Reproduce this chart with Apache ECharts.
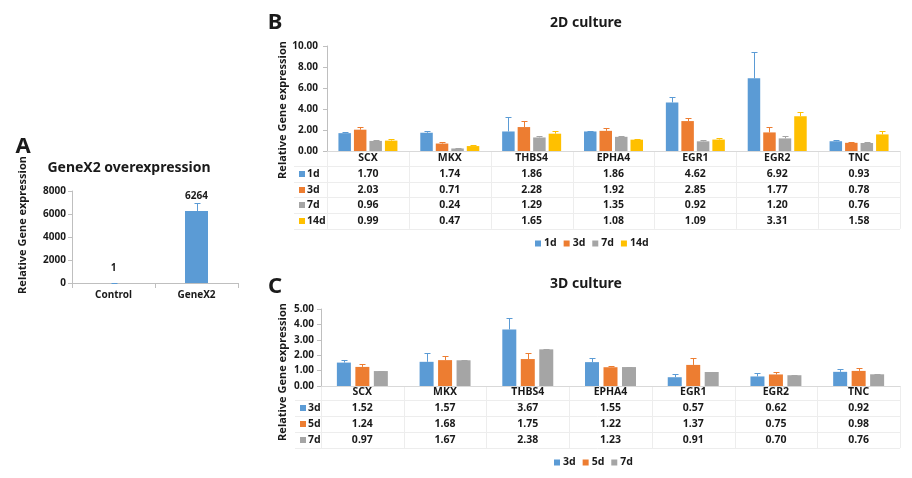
<!DOCTYPE html>
<html><head><meta charset="utf-8">
<script src="https://cdn.jsdelivr.net/npm/echarts@6/dist/echarts.min.js"></script>
<style>html,body{margin:0;padding:0;background:#fff}#c{width:912px;height:478px}</style>
</head><body><div id="c"></div>
<script>
// ---- data ----
const catsA = ['Control', 'GeneX2'];
const valsA = [1, 6264];
const errA = [0, 700];

const cats = ['SCX', 'MKX', 'THBS4', 'EPHA4', 'EGR1', 'EGR2', 'TNC'];
const namesB = ['1d', '3d', '7d', '14d'];
const b1d = [1.70, 1.74, 1.86, 1.86, 4.62, 6.92, 0.93];
const b3d = [2.03, 0.71, 2.28, 1.92, 2.85, 1.77, 0.78];
const b7d = [0.96, 0.24, 1.29, 1.35, 0.92, 1.20, 0.76];
const b14d = [0.99, 0.47, 1.65, 1.08, 1.09, 3.31, 1.58];
const eb1d = [0.14, 0.19, 1.35, 0.06, 0.55, 2.48, 0.12];
const eb3d = [0.28, 0.18, 0.61, 0.24, 0.32, 0.54, 0.05];
const eb7d = [0.09, 0.05, 0.14, 0.11, 0.13, 0.26, 0.13];
const eb14d = [0.12, 0.10, 0.28, 0.06, 0.18, 0.43, 0.32];

const namesC = ['3d', '5d', '7d'];
const c3d = [1.52, 1.57, 3.67, 1.55, 0.57, 0.62, 0.92];
const c5d = [1.24, 1.68, 1.75, 1.22, 1.37, 0.75, 0.98];
const c7d = [0.97, 1.67, 2.38, 1.23, 0.91, 0.70, 0.76];
const ec3d = [0.17, 0.55, 0.72, 0.29, 0.19, 0.20, 0.16];
const ec5d = [0.17, 0.27, 0.37, 0.05, 0.43, 0.18, 0.21];
const ec7d = [0.03, 0.04, 0.04, 0.03, 0.03, 0.02, 0.02];

// ---- styles ----
const FONT = "'Noto Sans', 'Open Sans', sans-serif";
const TXT = '#1a1a1a';
const colB = ['#5B9BD5', '#ED7D31', '#A5A5A5', '#FFC000'];
const colC = ['#5B9BD5', '#ED7D31', '#A5A5A5'];
const valsB = [b1d, b3d, b7d, b14d];
const errsB = [eb1d, eb3d, eb7d, eb14d];
const valsC = [c3d, c5d, c7d];
const errsC = [ec3d, ec5d, ec7d];

const chart = echarts.init(document.getElementById('c'));

function errSeries(xi, vals, errs, idx, n, w, g, color) {
  return {
    type: 'custom', name: 'err', xAxisIndex: xi, yAxisIndex: xi, z: 5, silent: true,
    data: vals.map((v, k) => [k, v, v + errs[k]]),
    renderItem: function (params, api) {
      const b = api.coord([api.value(0), api.value(1)]);
      const t = api.coord([api.value(0), api.value(2)]);
      const x = Math.round(b[0] + (idx - (n - 1) / 2) * (w + g)) + 0.5;
      const yt = Math.round(t[1]) + 0.5;
      return { type: 'group', children: [
        { type: 'line', shape: { x1: x, y1: b[1], x2: x, y2: yt }, style: { stroke: color, lineWidth: 1 } },
        { type: 'line', shape: { x1: x - 3, y1: yt, x2: x + 3, y2: yt }, style: { stroke: color, lineWidth: 1 } }
      ] };
    }
  };
}

const axisLbl = { color: TXT, fontFamily: FONT, fontWeight: 'bold', fontSize: 10 };
function yAx(gi, max, interval, dec, margin) {
  return {
    type: 'value', gridIndex: gi, min: 0, max: max, interval: interval,
    axisLine: { show: true, lineStyle: { color: '#BFBFBF' } },
    axisTick: { show: true, length: 4, lineStyle: { color: '#BFBFBF' } },
    splitLine: { show: false },
    axisLabel: Object.assign({}, axisLbl, { margin: margin, formatter: v => dec ? v.toFixed(2) : String(v) })
  };
}

const series = [];
// A
series.push({
  type: 'bar', name: 'GeneX2', xAxisIndex: 0, yAxisIndex: 0, data: valsA, barWidth: 23,
  itemStyle: { color: '#5B9BD5' },
  label: { show: true, position: 'top', distance: 10, color: TXT, fontFamily: FONT, fontSize: 10, fontWeight: 'bold' }
});
series.push(errSeries(0, valsA, errA, 0, 1, 23, 0, '#5B9BD5'));
// B
namesB.forEach((nm, i) => {
  series.push({ type: 'bar', name: nm, xAxisIndex: 1, yAxisIndex: 1, data: valsB[i], barWidth: 12.5, barGap: '24%', itemStyle: { color: colB[i] } });
});
namesB.forEach((nm, i) => series.push(errSeries(1, valsB[i], errsB[i], i, 4, 12.5, 3, colB[i])));
// C
namesC.forEach((nm, i) => {
  series.push({ type: 'bar', name: nm, xAxisIndex: 2, yAxisIndex: 2, data: valsC[i], barWidth: 14, barGap: '32%', itemStyle: { color: colC[i] } });
});
namesC.forEach((nm, i) => series.push(errSeries(2, valsC[i], errsC[i], i, 3, 14, 4.5, colC[i])));

const legendText = { color: TXT, fontFamily: FONT, fontWeight: 'bold', fontSize: 10.5, padding: [0, 0, 0, -2] };

chart.setOption({
  animation: false,
  grid: [
    { left: 72, top: 191, width: 166, height: 92 },
    { left: 327, top: 46, width: 573, height: 105 },
    { left: 321, top: 309, width: 579, height: 77 }
  ],
  xAxis: [
    { type: 'category', gridIndex: 0, data: catsA,
      axisLine: { lineStyle: { color: '#BFBFBF' } },
      axisTick: { show: true, alignWithLabel: false, lineStyle: { color: '#BFBFBF' } },
      axisLabel: Object.assign({}, axisLbl, { margin: 7 }) },
    { type: 'category', gridIndex: 1, data: cats,
      axisLine: { lineStyle: { color: '#D9D9D9' } }, axisTick: { show: false },
      axisLabel: Object.assign({}, axisLbl, { margin: 2, fontSize: 10.5 }) },
    { type: 'category', gridIndex: 2, data: cats,
      axisLine: { lineStyle: { color: '#D9D9D9' } }, axisTick: { show: false },
      axisLabel: Object.assign({}, axisLbl, { margin: 1, fontSize: 10.5 }) }
  ],
  yAxis: [yAx(0, 8000, 2000, false, 6), yAx(1, 10, 2, true, 9), yAx(2, 5, 1, true, 7)],
  legend: [
    { left: 535, top: 238, padding: 0, icon: 'rect', itemWidth: 6, itemHeight: 6, itemGap: 7, textStyle: legendText,
      data: namesB.map((n, i) => ({ name: n, itemStyle: { color: colB[i] } })) },
    { left: 554, top: 457, padding: 0, icon: 'rect', itemWidth: 6, itemHeight: 6, itemGap: 7, textStyle: legendText,
      data: namesC.map((n, i) => ({ name: n, itemStyle: { color: colC[i] } })) }
  ],
  series: series
});

// ---- texts, tables ----
const g = [];
function txt(s, x, y, font, align, rot) {
  g.push({ type: 'text', x: x, y: y, rotation: rot || 0,
    style: { text: s, font: font, fill: TXT, align: align || 'center', verticalAlign: 'middle' } });
}
function line(x1, y1, x2, y2, c) {
  g.push({ type: 'line', shape: { x1: x1, y1: y1, x2: x2, y2: y2 }, style: { stroke: c || '#EDEDED', lineWidth: 1 } });
}
const bigF = "bold 22px " + FONT;
const titleF = "bold 14px " + FONT;
const ytF = "bold 11px " + FONT;
txt('A', 23, 147, bigF);
txt('B', 275, 23, bigF);
txt('C', 275, 287, bigF);
txt('GeneX2 overexpression', 129, 168, titleF);
txt('2D culture', 586, 23, titleF);
txt('3D culture', 586, 284, titleF);
txt('Relative Gene expression', 23, 225, ytF, 'center', Math.PI / 2);
txt('Relative Gene expression', 283, 110, ytF, 'center', Math.PI / 2);
txt('Relative Gene expression', 283, 372, ytF, 'center', Math.PI / 2);

function table(xi, names, vals, cols, axisY, rowTop, rowH, keyX) {
  const p = cats.map(c => chart.convertToPixel({ xAxisIndex: xi }, c));
  const half = (p[1] - p[0]) / 2;
  const bottom = rowTop + rowH * names.length;
  const right = p[p.length - 1] + half;
  for (let k = 0; k <= cats.length; k++) {
    const x = Math.round(k === cats.length ? right : p[k] - half) + 0.5;
    line(x, axisY, x, bottom);
  }
  for (let r = 0; r <= names.length; r++) {
    const y = Math.round(rowTop + r * rowH) + 0.5;
    line(keyX - 5, y, right, y);
  }
  names.forEach((nm, r) => {
    const yc = rowTop + rowH * (r + 0.5);
    g.push({ type: 'rect', shape: { x: keyX, y: Math.round(yc) - 3, width: 6, height: 6 }, style: { fill: cols[r] } });
    txt(nm, keyX + 8, yc, "bold 10.5px " + FONT, 'left');
    vals[r].forEach((v, k) => txt(v.toFixed(2), p[k], yc, "bold 10.5px " + FONT));
  });
}
table(1, namesB, valsB, colB, 151, 166, 15.7, 299);
table(2, namesC, valsC, colC, 386, 400, 16, 300);

chart.setOption({ graphic: g });
</script></body></html>
